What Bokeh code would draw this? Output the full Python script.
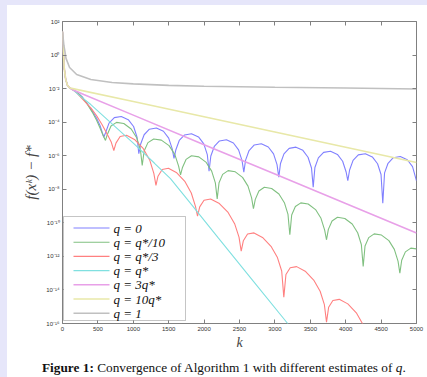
import numpy as np
from bokeh.plotting import figure
from bokeh.layouts import row, column
from bokeh.models import (FixedTicker, CustomJSTickFormatter, LogAxis, LinearAxis,
                          BoxAnnotation, Div, Range1d)
from bokeh.core.properties import value
from bokeh.embed import file_html
from bokeh.resources import INLINE

# ---------------- data: iteration k and log10(f(x^k) - f*) ----------------
q0_k = [0, 12, 25, 45, 70, 100, 140, 200, 280, 350, 420, 480, 530, 560, 583,
        608, 657, 732, 830, 929, 1004, 1053, 1078,
        1103, 1153, 1227, 1326, 1426, 1500, 1550, 1575,
        1600, 1649, 1724, 1822, 1921, 1996, 2045, 2070,
        2095, 2144, 2217, 2316, 2414, 2487, 2536, 2561,
        2586, 2635, 2709, 2808, 2907, 2981, 3030, 3055,
        3079, 3128, 3201, 3298, 3395, 3468, 3517, 3541,
        3565, 3614, 3688, 3786, 3883, 3957, 4006, 4030,
        4055, 4104, 4178, 4277, 4376, 4450, 4499, 4524,
        4549, 4598, 4672, 4771, 4870, 4944, 5000]
q0_e = [1.40, 0.2, -0.8, -1.45, -1.80, -1.95, -2.05, -2.2, -2.5, -2.9, -3.33, -3.75, -4.2, -4.6, -4.90,
        -4.63, -4.06, -3.73, -3.66, -3.85, -4.26, -4.90, -5.88,
        -5.32, -4.75, -4.42, -4.35, -4.54, -4.95, -5.59, -6.16,
        -5.66, -5.09, -4.76, -4.69, -4.88, -5.29, -5.93, -6.92,
        -6.02, -5.45, -5.12, -5.05, -5.24, -5.65, -6.29, -6.98,
        -6.26, -5.69, -5.36, -5.29, -5.48, -5.89, -6.53, -7.28,
        -6.46, -5.89, -5.56, -5.49, -5.68, -6.09, -6.73, -7.87,
        -6.70, -6.13, -5.80, -5.73, -5.92, -6.33, -6.97, -7.48,
        -6.85, -6.28, -5.95, -5.88, -6.07, -6.48, -7.12, -8.83,
        -7.02, -6.45, -6.12, -6.05, -6.24, -6.65, -7.5]

q10_k = [0, 12, 25, 45, 70, 100, 140, 200, 280, 350, 420, 480, 530, 570, 607,
         633, 685, 763, 866, 970, 1048, 1100, 1126,
         1153, 1207, 1288, 1396, 1505, 1586, 1640, 1667,
         1693, 1745, 1822, 1926, 2030, 2107, 2159, 2185,
         2211, 2262, 2339, 2441, 2543, 2620, 2671, 2697,
         2723, 2774, 2851, 2954, 3057, 3134, 3185, 3211,
         3237, 3289, 3366, 3470, 3574, 3651, 3703, 3729,
         3755, 3807, 3884, 3988, 4092, 4169, 4221, 4247,
         4273, 4325, 4402, 4506, 4610, 4687, 4739, 4765,
         4791, 4843, 4920, 5000]
q10_e = [1.40, 0.2, -0.8, -1.45, -1.80, -1.95, -2.05, -2.2, -2.52, -2.93, -3.4, -3.87, -4.35, -4.75, -5.09,
         -4.73, -4.23, -4.01, -4.08, -4.41, -4.93, -5.63, -6.58,
         -5.72, -5.22, -5.00, -5.07, -5.40, -5.92, -6.62, -7.14,
         -6.72, -6.22, -6.00, -6.07, -6.40, -6.92, -7.62, -8.57,
         -7.61, -7.11, -6.89, -6.96, -7.29, -7.81, -8.51, -9.16,
         -8.60, -8.10, -7.88, -7.95, -8.28, -8.80, -9.50, -10.71,
         -9.53, -9.03, -8.81, -8.88, -9.21, -9.73, -10.43, -11.01,
         -10.39, -9.89, -9.67, -9.74, -10.07, -10.59, -11.29, -12.60,
         -11.38, -10.88, -10.66, -10.73, -11.06, -11.58, -12.28, -13.00,
         -12.23, -11.73, -11.51, -11.55]

q3_k = [0, 12, 25, 45, 70, 100, 140, 200, 300, 400, 480, 560, 630, 690, 725,
        755, 814, 904, 1023, 1142, 1231, 1290, 1320,
        1349, 1408, 1496, 1614, 1731, 1819, 1878, 1907,
        1938, 1999, 2092, 2216, 2339, 2431, 2493, 2524,
        2554, 2614, 2705, 2825, 2945, 3036, 3096, 3126,
        3156, 3216, 3307, 3428, 3548, 3639, 3699, 3729,
        3759, 3819, 3909, 4030, 4150, 4240, 4300]
q3_e = [1.40, 0.2, -0.8, -1.45, -1.80, -1.95, -2.05, -2.25, -2.7, -3.15, -3.6, -4.15, -4.7, -5.2, -5.69,
        -5.25, -4.85, -4.78, -5.05, -5.58, -6.25, -7.05, -7.77,
        -7.22, -6.82, -6.75, -7.02, -7.55, -8.22, -9.02, -9.60,
        -9.05, -8.65, -8.58, -8.85, -9.38, -10.05, -10.85, -11.69,
        -11.07, -10.67, -10.60, -10.87, -11.40, -12.07, -12.87, -14.43,
        -13.08, -12.68, -12.61, -12.88, -13.41, -14.08, -14.88, -15.92,
        -15.03, -14.63, -14.56, -14.83, -15.36, -16.03, -16.8]

qs_k = [0, 12, 25, 45, 70, 100, 140, 250, 400, 700, 1000, 1300, 1525, 1800, 2200, 2700, 3180, 3300]
qs_e = [1.40, 0.2, -0.8, -1.45, -1.80, -1.95, -2.05, -2.45, -2.95, -4.1, -5.25, -6.45, -7.36, -8.8, -10.9, -13.5, -16.0, -16.6]

q3s_k = [0, 12, 25, 45, 70, 100, 140, 300, 1000, 2000, 3000, 4000, 5000]
q3s_e = [1.40, 0.2, -0.8, -1.45, -1.80, -1.95, -2.05, -2.35, -3.58, -5.34, -7.09, -8.85, -10.6]

q10s_k = [0, 12, 25, 45, 70, 100, 113, 1000, 2000, 3000, 4000, 5000]
q10s_e = [1.40, 0.2, -0.8, -1.45, -1.80, -1.95, -1.97, -2.77, -3.68, -4.59, -5.49, -6.40]

q1_k = [0, 20, 50, 100, 200, 400, 700, 1000, 1500, 2000, 3000, 4000, 5000]
q1_e = [1.40, 0.57, -0.2, -0.74, -1.16, -1.46, -1.64, -1.72, -1.81, -1.86, -1.92, -1.96, -2.02]

labels = ["q = 0", "q = q*/10", "q = q*/3", "q = q*", "q = 3q*", "q = 10q*", "q = 1"]
colors = ["#8080ff", "#80c080", "#ff8080", "#80e0e0", "#e8a0e8", "#e8e8a8", "#c0c0c0"]
widths = [1.1, 1.1, 1.1, 1.1, 1.6, 1.6, 1.6]
x_ticks = [0, 500, 1000, 1500, 2000, 2500, 3000, 3500, 4000, 4500, 5000]
y_tick_exps = [-16, -14, -12, -10, -8, -6, -4, -2, 0, 2]

series = [(q0_k, q0_e), (q10_k, q10_e), (q3_k, q3_e), (qs_k, qs_e),
          (q3s_k, q3s_e), (q10s_k, q10s_e), (q1_k, q1_e)]

# ---------------- figure ----------------
X0, X1 = 0, 5000
E_TOP, E_BOT = 2, -16
FRAME_W, FRAME_H = 354, 302
p = figure(width=420, height=355, output_backend="svg", toolbar_location=None,
           x_range=Range1d(X0, X1), y_range=Range1d(10.0 ** E_BOT, 10.0 ** E_TOP), y_axis_type="log",
           min_border_left=55, min_border_right=11, min_border_top=16, min_border_bottom=37,
           background_fill_color="white", border_fill_color="white",
           outline_line_color="#808080", outline_line_width=1, margin=0)
p.grid.visible = False

renderers = []
for (k, e), c, w in zip(series, colors, widths):
    r = p.line(k, 10.0 ** np.array(e), line_color=c, line_width=w)
    renderers.append(r)

yt = FixedTicker(ticks=[10.0 ** e for e in y_tick_exps], minor_ticks=[])
xt = FixedTicker(ticks=x_ticks, minor_ticks=[])
sup_fmt = CustomJSTickFormatter(code="""
const e = Math.round(Math.log10(tick));
const s = {"-":"\u207b","0":"\u2070","1":"\u00b9","2":"\u00b2","3":"\u00b3","4":"\u2074",
           "5":"\u2075","6":"\u2076","7":"\u2077","8":"\u2078","9":"\u2079"};
return "10" + String(e).split("").map(c => s[c]).join("");
""")
blank = CustomJSTickFormatter(code="return '';")

top = LinearAxis(ticker=xt, formatter=blank)
right = LogAxis(ticker=yt, formatter=blank)
p.add_layout(top, "above")
p.add_layout(right, "right")

bottom = p.below[0]
left = p.left[0]
bottom.ticker = xt
left.ticker = yt
left.formatter = sup_fmt

for ax in [top, right, bottom, left]:
    ax.axis_line_color = None
    ax.major_tick_line_color = "#808080"
    ax.major_tick_in = 4
    ax.major_tick_out = 0
    ax.minor_tick_line_color = None
    ax.major_label_text_font = "Liberation Sans"
    ax.major_label_text_font_size = "6px"
    ax.major_label_text_color = "#333333"
    ax.major_label_standoff = 3

bottom.axis_label = "k"
bottom.axis_label_text_font = "Liberation Serif"
bottom.axis_label_text_font_style = "italic"
bottom.axis_label_text_font_size = "14px"
bottom.axis_label_standoff = 1
left.axis_label = "f(x\u1d4f) \u2212 f*"
left.axis_label_text_font = "Liberation Serif"
left.axis_label_text_font_style = "italic"
left.axis_label_text_font_size = "15px"
left.axis_label_standoff = 4


# ---------------- legend, drawn from frame-pixel layout constants ----------------
def px_to_k(px):        # px measured from the frame's left edge
    return X0 + px / FRAME_W * (X1 - X0)


def py_to_val(py):      # py measured from the frame's top edge
    return 10.0 ** (E_TOP - py / FRAME_H * (E_TOP - E_BOT))


box_l, box_r, box_t, box_b = 1, 123, 195, 299          # legend box in frame px
p.add_layout(BoxAnnotation(left=px_to_k(box_l), right=px_to_k(box_r),
                           top=py_to_val(box_t), bottom=py_to_val(box_b),
                           fill_color="white", fill_alpha=1, line_color="#404040",
                           line_width=1, level="annotation"))
row0, pitch = 206.5, 14.2           # first row center and row pitch (frame px)
g0, g1, tx = 11, 47, 51             # sample line start/end and label x (frame px)
rows_y = [py_to_val(row0 + i * pitch) for i in range(len(labels))]
for yv, c, w in zip(rows_y, colors, widths):
    p.line([px_to_k(g0), px_to_k(g1)], [yv, yv], line_color=c, line_width=w, level="overlay")
p.text(x=[px_to_k(tx)] * len(labels), y=rows_y, text=labels,
       text_font=value("Liberation Serif"), text_font_style="italic", text_font_size="13px",
       text_baseline="middle", text_align="left", text_color="#111111", level="overlay")

# ---------------- page pieces: lavender strips + caption ----------------
lav = "#e6e6fa"
strip_left = Div(text="", width=7, height=377, margin=0, styles={"background-color": lav})
strip_top = Div(text="", width=420, height=5, margin=0, styles={"background-color": lav})
caption = Div(text=("<div style=\"font-family:'Liberation Serif',serif;font-size:13.3px;"
                    "white-space:nowrap;line-height:14px;padding-left:35px;color:#111\">"
                    "<b>Figure 1:</b> Convergence of Algorithm 1 with different estimates of "
                    "<i>q</i>.</div>"),
              width=420, height=14, margin=0)

root = row(strip_left, column(strip_top, p, caption, spacing=0), spacing=0)

open("out.html", "w").write(file_html(root, INLINE))
